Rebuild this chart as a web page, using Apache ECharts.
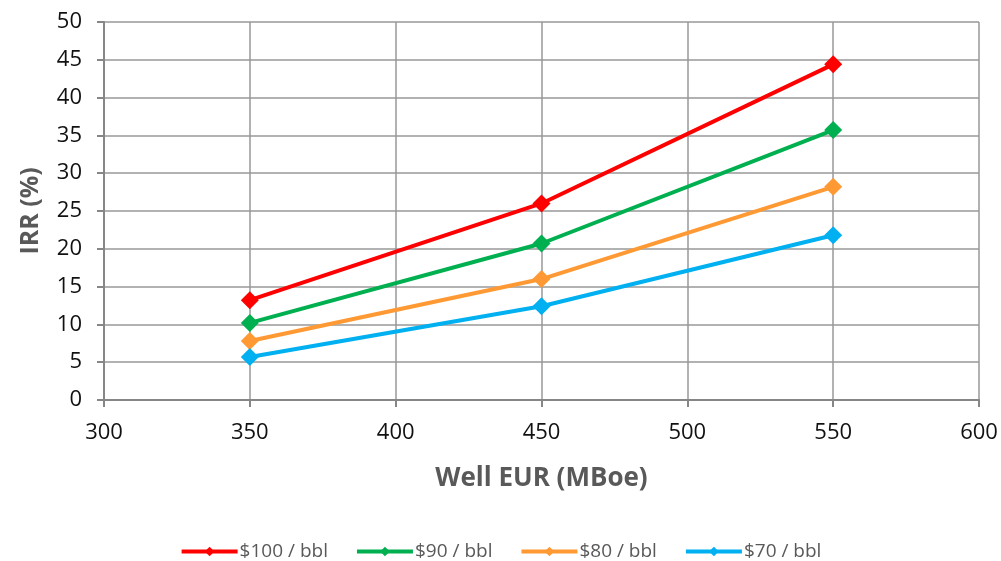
<!DOCTYPE html>
<html>
<head>
<meta charset="utf-8">
<script src="https://cdn.jsdelivr.net/npm/echarts@6/dist/echarts.min.js"></script>
<style>
  html, body { margin: 0; padding: 0; background: #fff; }
  #chart { width: 1001px; height: 561px; }
</style>
</head>
<body>
<div id="chart"></div>
<script>
// data
var eur = [350, 450, 550];
var irr100 = [13.2, 26.0, 44.4];
var irr90 = [10.2, 20.7, 35.7];
var irr80 = [7.8, 16.0, 28.2];
var irr70 = [5.7, 12.4, 21.8];
var names = ['$100 / bbl', '$90 / bbl', '$80 / bbl', '$70 / bbl'];
var colors = ['#FF0000', '#00B050', '#FF9933', '#00B0F0'];

var font = '"Open Sans", "Liberation Sans", sans-serif';

function mkSeries(name, vals, color) {
  return {
    name: name,
    type: 'line',
    data: eur.map(function (x, i) { return [x, vals[i]]; }),
    symbol: 'diamond',
    symbolSize: 18,
    lineStyle: { width: 4, color: color },
    itemStyle: { color: color },
    emphasis: { disabled: true }
  };
}

var axisCommon = {
  axisLine: { show: true, lineStyle: { color: '#868686', width: 2 } },
  axisTick: { show: true, length: 7, lineStyle: { color: '#868686', width: 2 } },
  splitLine: { show: true, lineStyle: { color: '#999', width: 1.5 } }
};

var chart = echarts.init(document.getElementById('chart'));
chart.setOption({
  animation: false,
  color: colors,
  grid: { left: 104, right: 22, top: 22, bottom: 161 },
  legend: {
    top: 537,
    left: 'center',
    itemWidth: 56,
    itemHeight: 12,
    itemGap: 27,
    lineStyle: { width: 4 },
    textStyle: { fontFamily: font, fontSize: 19, color: '#595959', padding: [0, 0, 0, -3] },
    data: names
  },
  xAxis: Object.assign({
    type: 'value',
    min: 300, max: 600, interval: 50,
    name: 'Well EUR (MBoe)',
    nameLocation: 'middle',
    nameGap: 66,
    nameTextStyle: { fontFamily: font, fontSize: 26, fontWeight: 'bold', color: '#595959' },
    axisLabel: { fontFamily: font, fontSize: 22, color: '#111', margin: 22 }
  }, axisCommon),
  yAxis: Object.assign({
    type: 'value',
    min: 0, max: 50, interval: 5,
    name: 'IRR (%)',
    nameLocation: 'middle',
    nameGap: 61,
    nameTextStyle: { fontFamily: font, fontSize: 25, fontWeight: 'bold', color: '#595959' },
    axisLabel: { fontFamily: font, fontSize: 22, color: '#111', margin: 22 }
  }, axisCommon),
  series: [
    mkSeries(names[0], irr100, colors[0]),
    mkSeries(names[1], irr90, colors[1]),
    mkSeries(names[2], irr80, colors[2]),
    mkSeries(names[3], irr70, colors[3])
  ]
});
</script>
</body>
</html>
